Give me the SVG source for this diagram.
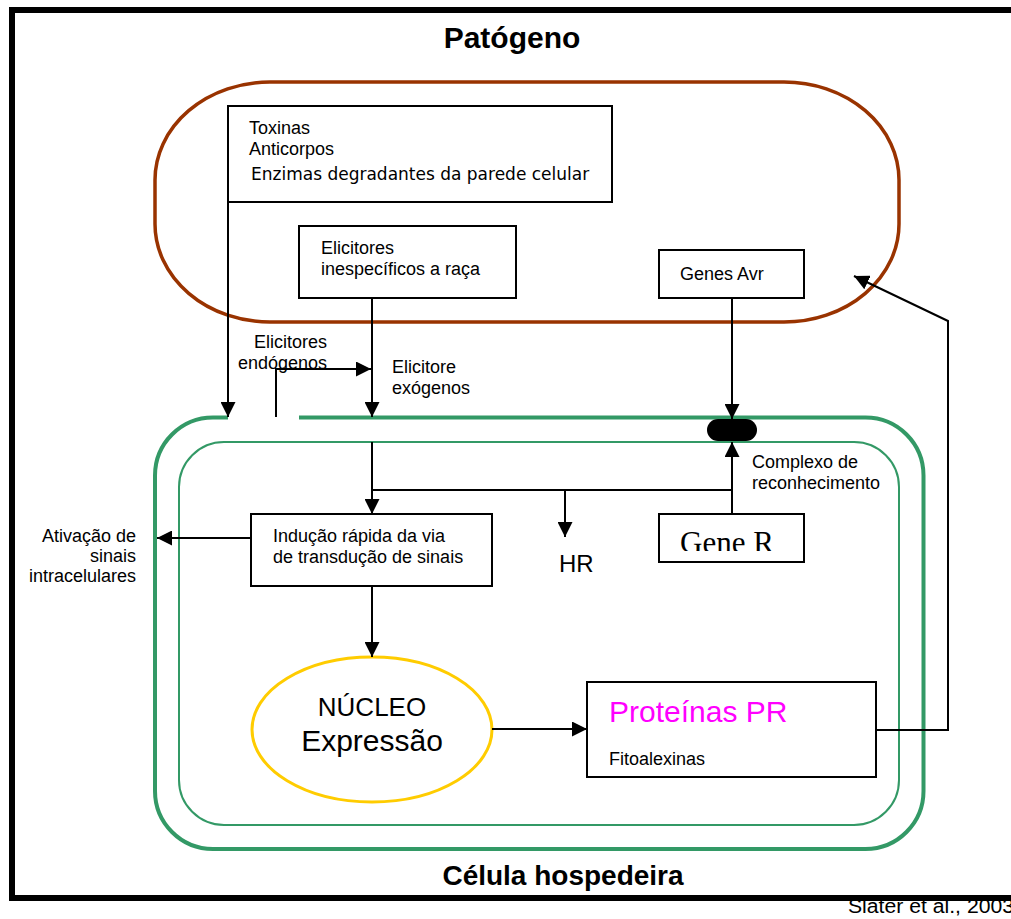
<svg xmlns="http://www.w3.org/2000/svg" width="1011" height="919" viewBox="0 0 1011 919">
<defs>
<style>
text{font-family:"Liberation Sans",Arial,sans-serif;fill:#000}
.t18{font-size:18px}
.box{fill:#fff;stroke:#000;stroke-width:2}
.con{fill:none;stroke:#000;stroke-width:2}
.arr{marker-end:url(#ah)}
</style>
<marker id="ah" viewBox="0 0 15 15" markerUnits="userSpaceOnUse" markerWidth="15" markerHeight="15" refX="15" refY="7.5" orient="auto">
<path d="M0,0 L15,7.5 L0,15 z" fill="#000"/>
</marker>
<clipPath id="geneClip"><rect x="660" y="515" width="143" height="36"/></clipPath>
</defs>
<rect x="0" y="0" width="1011" height="919" fill="#fff"/>
<path d="M1011,10 H12 V898 H1011" fill="none" stroke="#000" stroke-width="6"/>
<text x="512" y="48" text-anchor="middle" style="font-size:30px;font-weight:bold">Patógeno</text>
<text x="563" y="885" text-anchor="middle" style="font-size:28px;font-weight:bold">Célula hospedeira</text>
<text x="848" y="913" style="font-size:20px" textLength="166" lengthAdjust="spacingAndGlyphs">Slater et al., 2003</text>

<g id="patogeno">
<rect x="155" y="82" width="744" height="240" rx="115" ry="98" fill="none" stroke="#993300" stroke-width="3.5"/>
</g>
<g id="celula">
<rect x="155" y="417.5" width="768.5" height="431.5" rx="58" ry="58" fill="none" stroke="#339966" stroke-width="4"/>
<rect x="179" y="442" width="720" height="383" rx="45" ry="45" fill="none" stroke="#339966" stroke-width="2"/>
<line x1="228" y1="417.5" x2="299" y2="417.5" stroke="#fff" stroke-width="5"/>
</g>

<g id="toxinas">
<rect class="box" x="228" y="106" width="384" height="96"/>
<text class="t18" x="249" y="134">Toxinas</text>
<text class="t18" x="249" y="155">Anticorpos</text>
<text x="251" y="180" style="font-family:'DejaVu Sans',Verdana,sans-serif;font-size:17px">Enzimas degradantes da parede celular</text>
</g>
<g id="elicitores">
<rect class="box" x="299" y="226" width="217" height="72"/>
<text class="t18" x="321" y="254">Elicitores</text>
<text class="t18" x="321" y="275">inespecíficos a raça</text>
</g>
<g id="genes-avr">
<rect class="box" x="659" y="250" width="145" height="48"/>
<text class="t18" x="680" y="280">Genes Avr</text>
</g>
<g id="complexo">
<rect x="707" y="419" width="50" height="22" rx="11" ry="11" fill="#000"/>
<text class="t18" x="752" y="468">Complexo de</text>
<text class="t18" x="752" y="489">reconhecimento</text>
</g>
<g id="gene-r">
<rect class="box" x="659" y="514" width="145" height="48"/>
<text x="680" y="553" clip-path="url(#geneClip)" style="font-family:'Liberation Serif','Times New Roman',serif;font-size:31px">Gene R</text>
</g>
<g id="inducao">
<rect class="box" x="251" y="514" width="241" height="72"/>
<text class="t18" x="273" y="542">Indução rápida da via</text>
<text class="t18" x="273" y="563">de transdução de sinais</text>
</g>
<g id="ativacao">
<text class="t18" x="136" y="542" text-anchor="end">Ativação de</text>
<text class="t18" x="136" y="562" text-anchor="end">sinais</text>
<text class="t18" x="136" y="582" text-anchor="end">intracelulares</text>
</g>
<g id="hr">
<text x="559" y="572" style="font-size:24px">HR</text>
</g>
<g id="nucleo">
<ellipse cx="372" cy="729.5" rx="120" ry="72.5" fill="#fff" stroke="#FFCC00" stroke-width="3"/>
<text x="372" y="716" text-anchor="middle" style="font-size:26px">NÚCLEO</text>
<text x="372" y="751" text-anchor="middle" style="font-size:30px">Expressão</text>
</g>
<g id="proteinas">
<rect class="box" x="587" y="682" width="289" height="95"/>
<text x="609" y="722" style="font-size:30px;fill:#FF00FF">Proteínas PR</text>
<text class="t18" x="609" y="765">Fitoalexinas</text>
</g>
<g id="labels-elicitores">
<text class="t18" x="327" y="348" text-anchor="end">Elicitores</text>
<text class="t18" x="327" y="369" text-anchor="end">endógenos</text>
<text class="t18" x="392" y="373">Elicitore</text>
<text class="t18" x="392" y="394">exógenos</text>
</g>

<g id="connectors">
<path class="con arr" d="M228,202 V417"/>
<path class="con arr" d="M372,298 V417"/>
<path class="con arr" d="M276,417 V369 H371"/>
<path class="con arr" d="M372,442 V514"/>
<path class="con" d="M372,490 H732"/>
<path class="con arr" d="M565,490 V537"/>
<path class="con arr" d="M732,298 V419"/>
<path class="con arr" d="M732,514 V442"/>
<path class="con arr" d="M251,538 H157"/>
<path class="con arr" d="M372,586 V657"/>
<path class="con arr" d="M492,729 H587"/>
<path class="con arr" d="M876,730 H948 V321 L854,276"/>
</g>
</svg>
